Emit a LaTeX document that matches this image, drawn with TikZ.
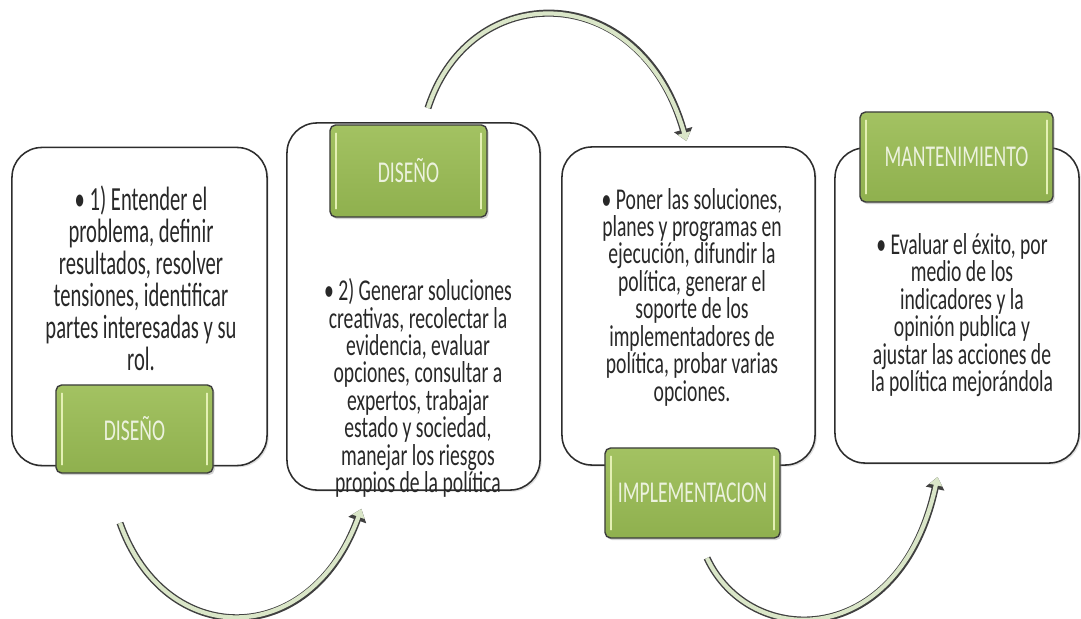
\documentclass[tikz,border=0pt]{standalone}
\usepackage{fontspec}
\newfontfamily\slidefont{Carlito}[FakeStretch=0.65]
\newfontfamily\bigslidefont{Carlito}[FakeStretch=0.61]
\usetikzlibrary{arrows.meta,shadows}
\definecolor{tagtop}{RGB}{163,194,98}
\definecolor{tagbot}{RGB}{143,176,78}
\definecolor{tagglow}{RGB}{228,240,180}
\definecolor{tagline}{RGB}{60,60,60}
\definecolor{tagtext}{RGB}{236,242,222}
\definecolor{arrowcol}{RGB}{218,230,200}
\definecolor{boxline}{RGB}{45,45,45}
\definecolor{bodytext}{RGB}{40,40,40}

\tikzset{
  stage/.style={draw=boxline, line width=1.1pt, fill=white, rounded corners=0.75cm,
    inner sep=0pt, drop shadow={shadow xshift=1.2pt, shadow yshift=-1.2pt, opacity=0.25}},
  stagetag/.style={draw=tagline, line width=1pt, top color=tagtop, bottom color=tagbot,
    rounded corners=4pt, text=tagtext, inner sep=0pt,
    font=\slidefont\fontsize{21.5}{24}\selectfont,
    drop shadow={shadow xshift=1.2pt, shadow yshift=-1.5pt, opacity=0.35},
    path picture={
      \draw[tagglow, line width=1.3pt, line cap=round]
        ([xshift=4pt,yshift=-6pt]path picture bounding box.north west) --
        ([xshift=4pt,yshift=6pt]path picture bounding box.south west);
      \draw[tagglow, line width=1.3pt, line cap=round]
        ([xshift=-4pt,yshift=-6pt]path picture bounding box.north east) --
        ([xshift=-4pt,yshift=6pt]path picture bounding box.south east);
    }},
  stagetext/.style={align=center, text=bodytext, inner sep=0pt,
    font=\slidefont\fontsize{21.5}{19.5}\selectfont},
  cyclearrow/.style={draw=arrowcol, line width=3pt, shorten >=1.4pt,
    -{Triangle[length=6pt,width=9pt]},
    preaction={draw=black!75, line width=5pt, -{Triangle[length=8.5pt,width=13pt]}}}
}

\begin{document}
\begin{tikzpicture}[x=0.025cm, y=-0.025cm]
    \useasboundingbox (0,0) rectangle (1081,619);

    % stage 1
    \node[stage, minimum width=6.375cm, minimum height=7.95cm] (box1) at (139.5,306.5) {};
    \node[stagetext, font=\bigslidefont\fontsize{24}{22.7}\selectfont] (txt1) at (141,278)
        {• 1) Entender el\\ problema, definir\\ resultados, resolver\\ tensiones, identificar\\ partes interesadas y su\\ rol.};
    \node[stagetag, minimum width=3.925cm, minimum height=2.2cm] (tag1) at (134.5,429) {DISEÑO};

    % stage 2
    \node[stage, minimum width=6.325cm, minimum height=9.175cm] (box2) at (413.5,306.5) {};
    \node[stagetext] (txt2) at (418,388)
        {• 2) Generar soluciones\\ creativas, recolectar la\\ evidencia, evaluar\\ opciones, consultar a\\ expertos, trabajar\\ estado y sociedad,\\ manejar los riesgos\\ propios de la política};
    \node[stagetag, minimum width=3.925cm, minimum height=2.3cm] (tag2) at (408.5,171) {DISEÑO};

    % stage 3
    \node[stage, minimum width=6.325cm, minimum height=7.95cm] (box3) at (688.5,306) {};
    \node[stagetext] (txt3) at (692,297)
        {• Poner las soluciones,\\ planes y programas en\\ ejecución, difundir la\\ política, generar el\\ soporte de los\\ implementadores de\\ política, probar varias\\ opciones.};
    \node[stagetag, minimum width=4.375cm, minimum height=2.25cm] (tag3) at (692.5,493) {IMPLEMENTACION};

    % stage 4
    \node[stage, minimum width=6.1cm, minimum height=7.875cm] (box4) at (957,305.5) {};
    \node[stagetext] (txt4) at (962,315)
        {• Evaluar el éxito, por\\ medio de los\\ indicadores y la\\ opinión publica y\\ ajustar las acciones de\\ la política mejorándola};
    \node[stagetag, minimum width=4.825cm, minimum height=2.25cm] (tag4) at (956.5,157) {MANTENIMIENTO};

    % arrows between stages
    \coordinate (a1s) at (120,523);  \coordinate (a1e) at (362,507);
    \coordinate (a2s) at (428,108);  \coordinate (a2e) at (687,143);
    \coordinate (a3s) at (707,558);  \coordinate (a3e) at (938,475);
    \draw[cyclearrow] (a1s) .. controls (165,650) and (310,650) .. (a1e);
    \draw[cyclearrow] (a2s) .. controls (470,-22) and (640,-22) .. (a2e);
    \draw[cyclearrow] (a3s) .. controls (750,650) and (900,650) .. (a3e);
\end{tikzpicture}
\end{document}
